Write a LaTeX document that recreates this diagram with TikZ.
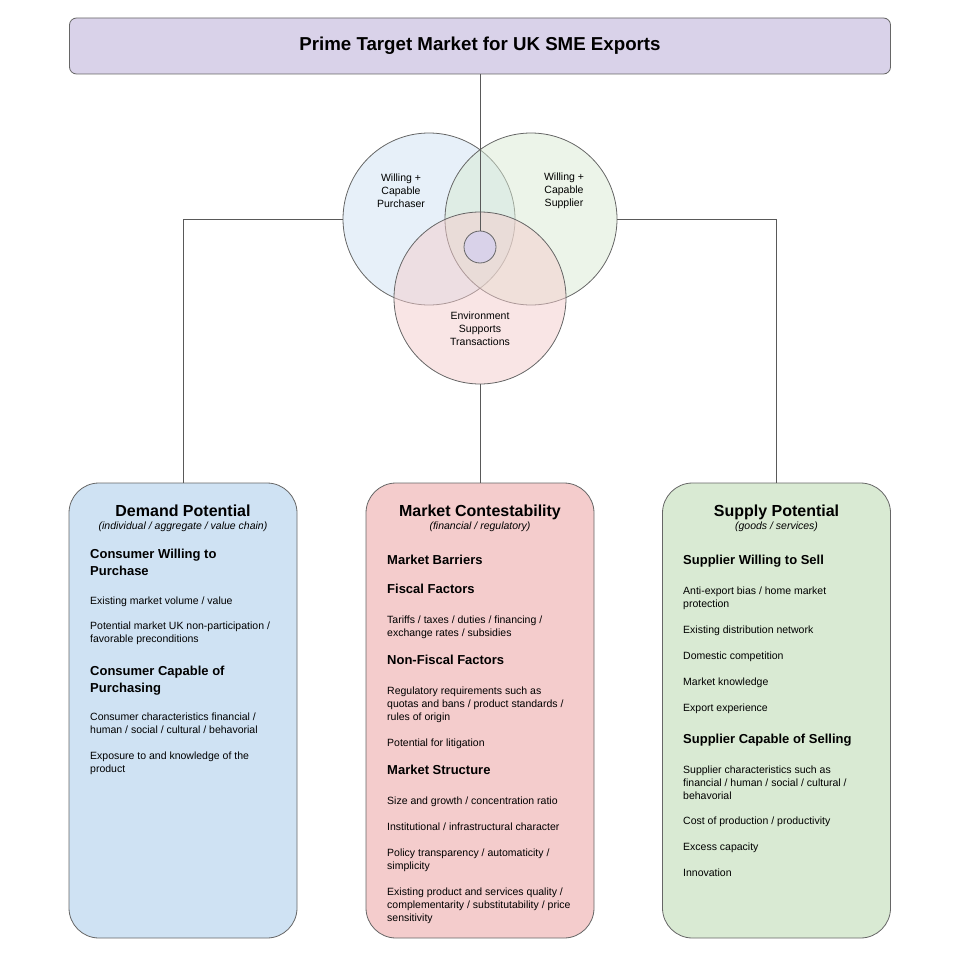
\documentclass[tikz,border=0pt]{standalone}
\usepackage{fontspec}
\setmainfont{Liberation Sans}
\usetikzlibrary{positioning}

\definecolor{primefill}{HTML}{D9D2E9}
\definecolor{demandfill}{HTML}{CFE2F3}
\definecolor{contestfill}{HTML}{F4CCCC}
\definecolor{supplyfill}{HTML}{D9EAD3}
\definecolor{edgegray}{HTML}{666666}
\definecolor{linkgray}{HTML}{595959}

\tikzset{
  venn/.style={circle, draw=edgegray, line width=0.8pt, minimum size=172pt, inner sep=0pt, fill opacity=0.5},
  vennlabel/.style={align=center, inner sep=0pt, font=\fontsize{10.5}{13}\selectfont},
  colbox/.style={draw=edgegray, line width=0.8pt, rounded corners=30pt, minimum width=228pt, minimum height=455pt, inner sep=0pt},
  coltitle/.style={anchor=base, inner sep=0pt, font=\fontsize{16}{19}\selectfont\bfseries},
  colsub/.style={anchor=base, inner sep=0pt, font=\fontsize{10.5}{13}\selectfont\itshape},
  heading/.style={anchor=north west, inner sep=0pt, align=left, font=\fontsize{13}{16.5}\selectfont\bfseries},
  item/.style={anchor=north west, inner sep=0pt, align=left, font=\fontsize{10.5}{13}\selectfont},
  link/.style={draw=linkgray, line width=0.8pt}
}

\begin{document}
\begin{tikzpicture}[x=1pt,y=-1pt]
  \useasboundingbox (0,0) rectangle (960,960);

  % title
  \node[draw=edgegray, line width=0.8pt, fill=primefill, rounded corners=7pt,
        minimum width=821pt, minimum height=56pt, inner sep=0pt,
        font=\fontsize{18.7}{22}\selectfont\bfseries] (prime) at (480,46) {Prime Target Market for UK SME Exports};

  % venn circles
  \node[venn, fill=demandfill] (purch) at (429,219) {};
  \node[venn, fill=supplyfill] (suppl) at (531,219) {};
  \node[venn, fill=contestfill] (envir) at (480,298) {};
  \node[circle, draw=edgegray, line width=0.8pt, fill=primefill, minimum size=32pt, inner sep=0pt] (core) at (480,247) {};

  \node[vennlabel] (purchtext) at (401,191) {Willing +\\Capable\\Purchaser};
  \node[vennlabel] (suppltext) at (564,191) {Willing +\\Capable\\Supplier};
  \node[vennlabel] (envirtext) at (480,329) {Environment\\Supports\\Transactions};

  % column boxes
  \node[colbox, fill=demandfill] (demand) at (183,710.5) {};
  \node[colbox, fill=contestfill] (contest) at (480,710.5) {};
  \node[colbox, fill=supplyfill] (supply) at (776.5,710.5) {};

  % connectors
  \draw[link] (prime.south) -- (core.north);
  \draw[link] (purch.west) -| (demand.north);
  \draw[link] (suppl.east) -| (supply.north);
  \draw[link] (envir.south) -- (contest.north);

  % demand potential
  \node[coltitle] (dtitle) at (183,516.5) {Demand Potential};
  \node[colsub] (dsub) at (183,529.7) {(individual / aggregate / value chain)};
  \node[heading] (dh1) at (90,549) {Consumer Willing to\\Purchase};
  \node[item] (d1) at (90,597) {Existing market volume / value};
  \node[item] (d2) at (90,622) {Potential market UK non-participation /\\favorable preconditions};
  \node[heading] (dh2) at (90,666) {Consumer Capable of\\Purchasing};
  \node[item] (d3) at (90,713) {Consumer characteristics financial /\\human / social / cultural / behavorial};
  \node[item] (d4) at (90,752) {Exposure to and knowledge of the\\product};

  % market contestability
  \node[coltitle] (ctitle) at (480,516.5) {Market Contestability};
  \node[colsub] (csub) at (480,529.7) {(financial / regulatory)};
  \node[heading] (ch1) at (387,555) {Market Barriers};
  \node[heading] (ch2) at (387,584) {Fiscal Factors};
  \node[item] (c1) at (387,616) {Tariffs / taxes / duties / financing /\\exchange rates / subsidies};
  \node[heading] (ch3) at (387,655) {Non-Fiscal Factors};
  \node[item] (c2) at (387,687) {Regulatory requirements such as\\quotas and bans / product standards /\\rules of origin};
  \node[item] (c3) at (387,739) {Potential for litigation};
  \node[heading] (ch4) at (387,765) {Market Structure};
  \node[item] (c4) at (387,797) {Size and growth / concentration ratio};
  \node[item] (c5) at (387,823) {Institutional / infrastructural character};
  \node[item] (c6) at (387,849) {Policy transparency / automaticity /\\simplicity};
  \node[item] (c7) at (387,888) {Existing product and services quality /\\complementarity / substitutability / price\\sensitivity};

  % supply potential
  \node[coltitle] (stitle) at (776.5,516.5) {Supply Potential};
  \node[colsub] (ssub) at (776.5,529.7) {(goods / services)};
  \node[heading] (sh1) at (683,555) {Supplier Willing to Sell};
  \node[item] (s1) at (683,587) {Anti-export bias / home market\\protection};
  \node[item] (s2) at (683,626) {Existing distribution network};
  \node[item] (s3) at (683,652) {Domestic competition};
  \node[item] (s4) at (683,678) {Market knowledge};
  \node[item] (s5) at (683,704) {Export experience};
  \node[heading] (sh2) at (683,734) {Supplier Capable of Selling};
  \node[item] (s6) at (683,766) {Supplier characteristics such as\\financial / human / social / cultural /\\behavorial};
  \node[item] (s7) at (683,817) {Cost of production / productivity};
  \node[item] (s8) at (683,843) {Excess capacity};
  \node[item] (s9) at (683,869) {Innovation};
\end{tikzpicture}
\end{document}
